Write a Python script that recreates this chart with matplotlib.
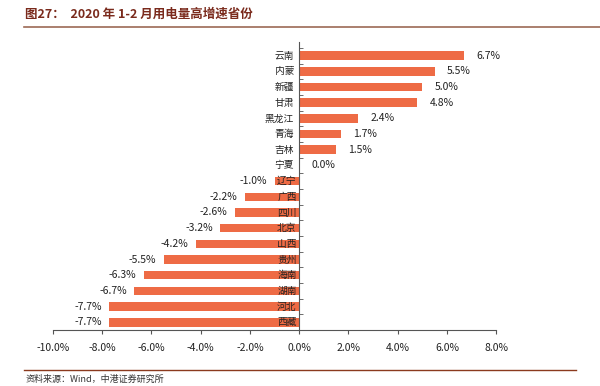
import matplotlib.pyplot as plt
import numpy as np

plt.rcParams['font.family'] = ['Noto Sans CJK SC', 'DejaVu Sans']

provinces = ['云南', '内蒙', '新疆', '甘肃', '黑龙江', '青海', '吉林', '宁夏', '辽宁',
             '广西', '四川', '北京', '山西', '贵州', '海南', '湖南', '河北', '西藏']
growth = [6.7, 5.5, 5.0, 4.8, 2.4, 1.7, 1.5, 0.0, -1.0,
          -2.2, -2.6, -3.2, -4.2, -5.5, -6.3, -6.7, -7.7, -7.7]
xticks = [-10, -8, -6, -4, -2, 0, 2, 4, 6, 8]

bar_color = '#EE6B45'
title_color = '#7A2A1C'

fig = plt.figure(figsize=(6, 3.86), dpi=100)
ax = fig.add_axes([0.088, 0.145, 0.739, 0.745])

ypos = np.arange(len(provinces))
ax.barh(ypos, growth, height=0.55, color=bar_color)
ax.set_ylim(len(provinces) - 0.5, -0.85)
ax.set_xlim(-10, 8)

ax.spines['top'].set_visible(False)
ax.spines['right'].set_visible(False)
ax.spines['left'].set_position(('data', 0))
ax.spines['left'].set_color('#555555')
ax.spines['bottom'].set_color('#555555')
ax.spines['left'].set_linewidth(0.8)
ax.spines['bottom'].set_linewidth(0.8)

ax.set_xticks(xticks, labels=[f'{v:.1f}%' for v in xticks])
ax.tick_params(axis='x', direction='out', length=3, labelsize=7.5, colors='#555555',
               labelcolor='#222222', pad=6)
ax.set_yticks([])
ax.set_yticks(np.arange(len(provinces) + 1) - 0.5, minor=True)
ax.tick_params(axis='y', which='minor', direction='in', length=3, color='#555555')

for y, (name, v) in enumerate(zip(provinces, growth)):
    if v >= 0:
        ax.text(-0.2, y, name, ha='right', va='center', fontsize=7, color='#222222')
        ax.text(v + 0.5, y, f'{v:.1f}%', ha='left', va='center', fontsize=7.5, color='#222222')
    else:
        ax.text(-0.1, y, name, ha='right', va='center', fontsize=7, color='#222222')
        ax.text(v - 0.3, y, f'{v:.1f}%', ha='right', va='center', fontsize=7.5, color='#222222')

fig.text(0.042, 0.962, '图27：  2020 年 1-2 月用电量高增速省份', fontsize=9, fontweight='bold',
         color=title_color, ha='left', va='center')
fig.add_artist(plt.Line2D([0.04, 1.0], [0.93, 0.93], color='#9C6A55', lw=1.2))
fig.add_artist(plt.Line2D([0.04, 0.96], [0.042, 0.042], color='#8B3A1E', lw=1.0))
fig.text(0.042, 0.005, '资料来源：Wind，中港证券研究所', fontsize=6.5, style='italic',
         color='#333333', ha='left', va='bottom')

fig.savefig('out.png', dpi=100)
